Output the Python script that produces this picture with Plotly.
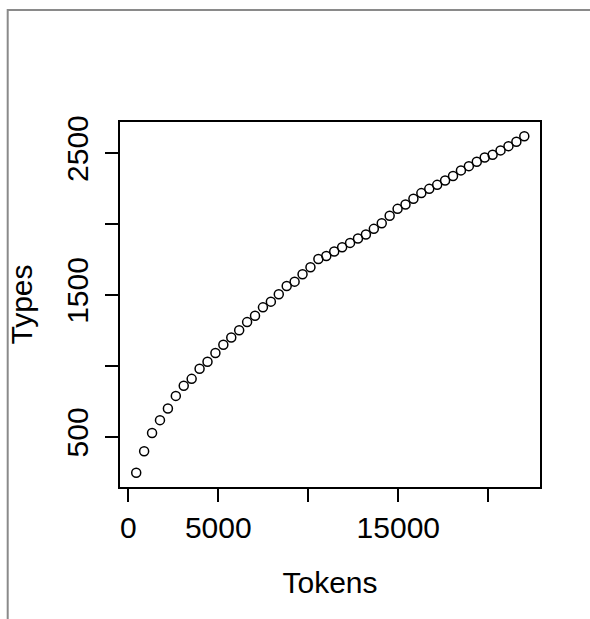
import plotly.graph_objects as go

tokens = [440, 880, 1320, 1760, 2200, 2640, 3080, 3520, 3960, 4400,
          4840, 5280, 5720, 6160, 6600, 7040, 7480, 7920, 8360, 8800,
          9240, 9680, 10120, 10560, 11000, 11440, 11880, 12320, 12760, 13200,
          13640, 14080, 14520, 14960, 15400, 15840, 16280, 16720, 17160, 17600,
          18040, 18480, 18920, 19360, 19800, 20240, 20680, 21120, 21560, 22000]
types = [248, 399, 528, 618, 700, 789, 860, 909, 980, 1029,
         1091, 1149, 1201, 1251, 1309, 1354, 1413, 1453, 1505, 1563,
         1594, 1646, 1695, 1754, 1775, 1806, 1836, 1867, 1898, 1926,
         1966, 2006, 2058, 2107, 2138, 2178, 2218, 2248, 2276, 2307,
         2338, 2378, 2408, 2439, 2469, 2488, 2519, 2549, 2580, 2618]

x_tickvals = [0, 5000, 10000, 15000, 20000]
x_ticktext = ["0", "5000", "", "15000", ""]
y_tickvals = [500, 1000, 1500, 2000, 2500]
y_ticktext = ["500", "", "1500", "", "2500"]

FONT = "Liberation Sans, Arial, Helvetica, sans-serif"
FS = 30

fig = go.Figure()
fig.add_trace(go.Scatter(
    x=tokens, y=types, mode="markers",
    marker=dict(symbol="circle-open", size=9, color="black",
                line=dict(width=1.5, color="black")),
    showlegend=False,
))

W, H = 590, 619
L, R, T, B = 120, 50, 122, 132
pw, ph = W - L - R, H - T - B

def px(xp):
    return (xp - L) / pw

def py(yp):
    return (H - B - yp) / ph

fig.update_layout(
    width=W, height=H,
    margin=dict(l=L, r=R, t=T, b=B),
    paper_bgcolor="white", plot_bgcolor="white",
    font=dict(family=FONT, size=FS, color="black"),
    xaxis=dict(
        range=[-461, 22872], showgrid=False, zeroline=False,
        showline=True, linecolor="black", linewidth=1.5, mirror=True,
        ticks="outside", ticklen=13, tickwidth=1.5, tickcolor="black",
        tickvals=x_tickvals, ticktext=x_ticktext,
        tickfont=dict(size=FS),
        title=dict(text="Tokens", font=dict(size=FS), standoff=29),
    ),
    yaxis=dict(
        range=[147, 2719], showgrid=False, zeroline=False,
        showline=True, linecolor="black", linewidth=1.5, mirror=True,
        ticks="outside", ticklen=13, tickwidth=1.5, tickcolor="black",
        tickvals=y_tickvals, ticktext=y_ticktext, tickangle=-90,
        ticklabelstandoff=5,
        tickfont=dict(size=FS),
        title=dict(text="Types", font=dict(size=FS), standoff=20),
    ),
    shapes=[
        dict(type="line", xref="paper", yref="paper",
             x0=px(7), x1=px(592), y0=py(10), y1=py(10),
             line=dict(color="#8a8a8a", width=2)),
        dict(type="line", xref="paper", yref="paper",
             x0=px(7.7), x1=px(7.7), y0=py(9), y1=py(622),
             line=dict(color="#8a8a8a", width=2)),
    ],
)

fig.write_html("out.html",
               config={"displayModeBar": False},
               post_script="document.body.style.margin='0';document.body.style.overflow='hidden';")
